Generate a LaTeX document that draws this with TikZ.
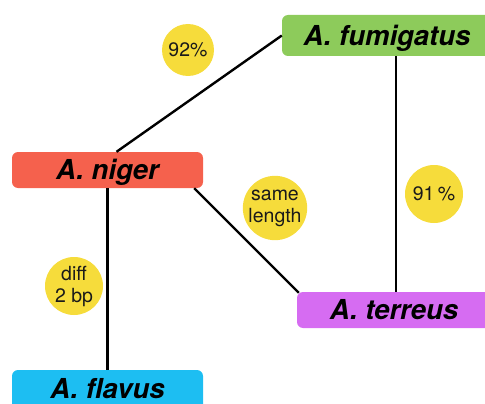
\documentclass[tikz,border=0pt]{standalone}
\usepackage{fontspec}
\setmainfont{TeX Gyre Heros}
\usetikzlibrary{calc}
\definecolor{cgreen}{HTML}{8DCB5B}
\definecolor{cred}{HTML}{F5614D}
\definecolor{cviolet}{HTML}{D66CF2}
\definecolor{ccyan}{HTML}{1DBEF2}
\definecolor{cyellow}{HTML}{F6DC3B}
\definecolor{ctext}{HTML}{1A1A1A}
\tikzset{
  species/.style={rounded corners=6pt, inner sep=0pt, font=\fontsize{27.5}{30}\selectfont\bfseries\itshape,
    text height=19.5pt, text depth=0pt, text=black},
  badge/.style={circle, fill=cyellow, minimum size=#1, inner sep=0pt, align=center,
    font=\fontsize{19.5}{22}\selectfont, text=ctext},
  link/.style={line width=2.4pt, black}
}
\begin{document}
\begin{tikzpicture}[x=1pt,y=-1pt]
\useasboundingbox (0,0) rectangle (485,404);
\clip (0,0) rectangle (485,404);
\node[species, fill=cgreen, minimum width=210pt, minimum height=41pt] (fum) at (387,35.5) {A. fumigatus};
\node[species, fill=cred, minimum width=191pt, minimum height=36pt] (nig) at (107.5,170) {A. niger};
\node[species, fill=cviolet, minimum width=194pt, minimum height=36pt] (ter) at (394,310) {A. terreus};
\node[species, fill=ccyan, minimum width=191pt, minimum height=40pt, text depth=3pt] (fla) at (107.5,390) {A. flavus};
\draw[link] ([xshift=9pt]nig.north) -- (fum.west);
\draw[link] ([xshift=9pt]fum.south) -- ([xshift=9pt]fum.south |- ter.north);
\draw[link] ([xshift=-9pt]nig.south east) -- ([xshift=2pt,yshift=-1pt]ter.north west);
\draw[link] (nig.south) -- (fla.north);
\node[badge=52pt] (b1) at (188,50) {92\%};
\node[badge=60pt] (b2) at (275,208) {same\\length};
\node[badge=58pt] (b3) at (74,286) {diff\\2 bp};
\node[badge=58pt] (b4) at (434,194) {91\,\%};
\end{tikzpicture}
\end{document}
